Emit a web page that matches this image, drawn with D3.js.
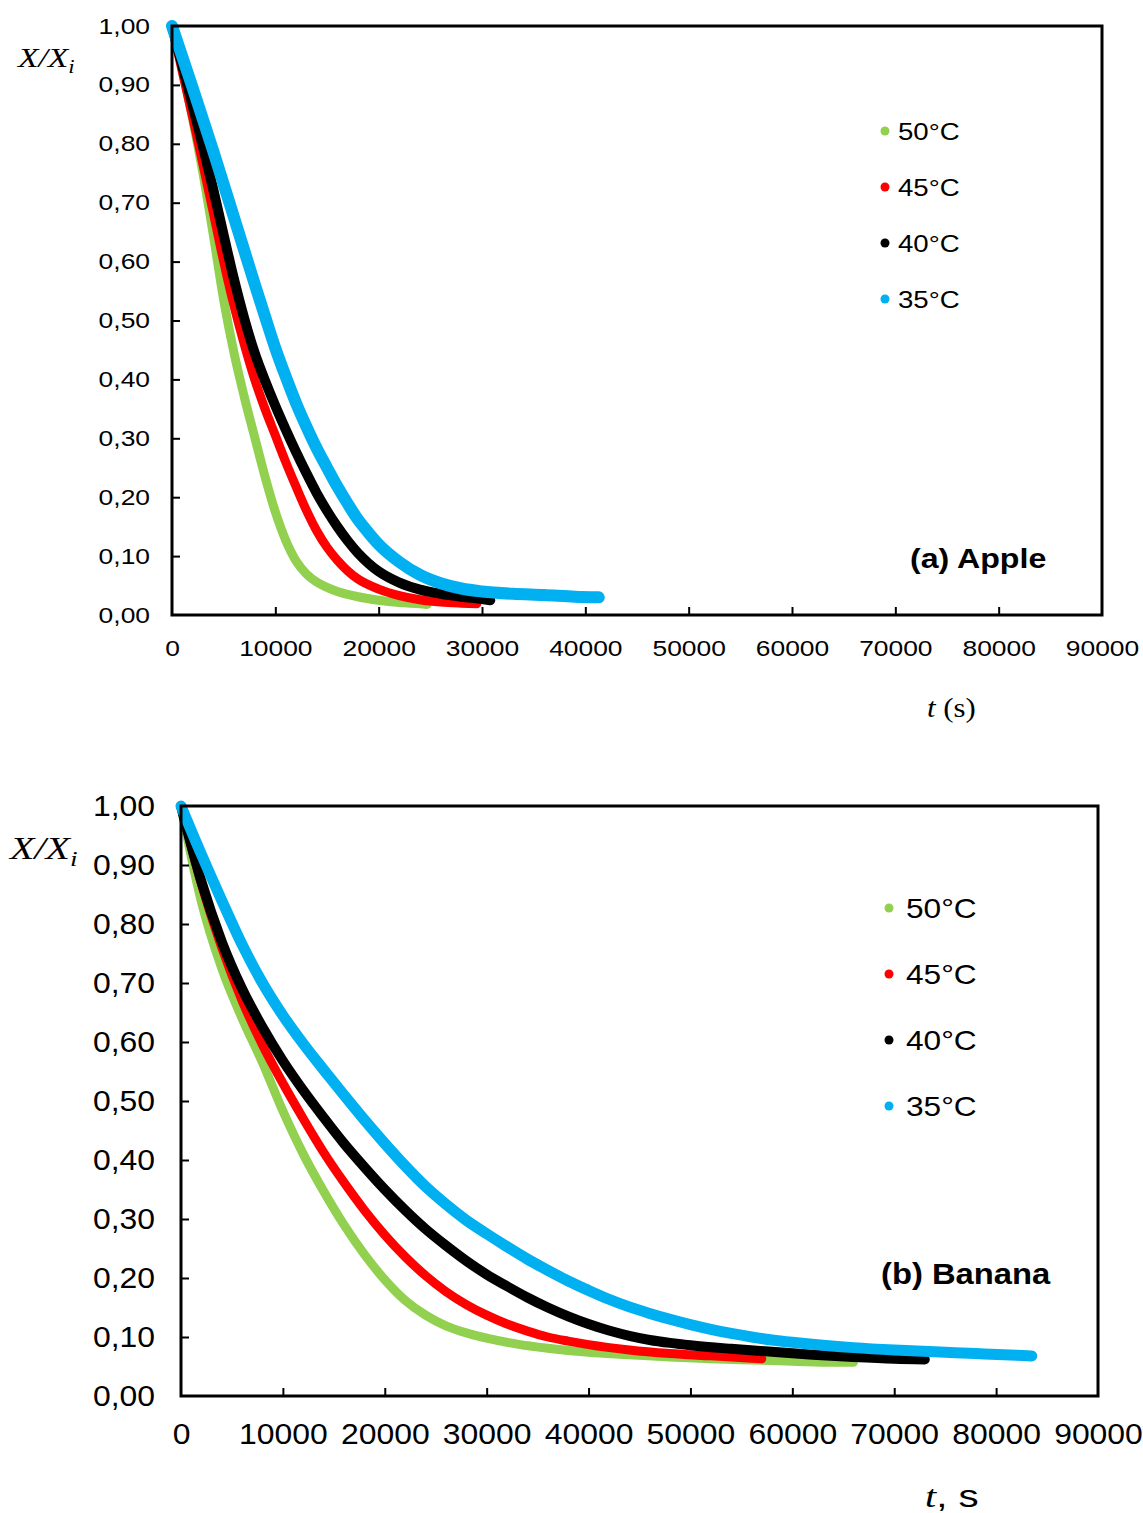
<!DOCTYPE html>
<html><head><meta charset="utf-8">
<script src="https://cdn.jsdelivr.net/npm/d3@7/dist/d3.min.js"></script>
<style>body{margin:0;background:#fff}svg{display:block}</style>
</head><body>
<svg id="chart" width="1143" height="1513"></svg>
<script>
// ---- Data ----
const seriesNames = ["50°C", "45°C", "40°C", "35°C"];
const seriesColors = ["#92d050", "#ff0000", "#000000", "#00b0f0"];
const xTicks = [0, 10000, 20000, 30000, 40000, 50000, 60000, 70000, 80000, 90000];
const yTicks = [0, 0.1, 0.2, 0.3, 0.4, 0.5, 0.6, 0.7, 0.8, 0.9, 1.0];
const yTickLabels = ["0,00","0,10","0,20","0,30","0,40","0,50","0,60","0,70","0,80","0,90","1,00"];

// Apple (a): [t (s), X/Xi]
const apple50 = [[0,1.0],[1000,0.925],[2000,0.842],[3000,0.75],[4000,0.645],[5000,0.535],[6000,0.445],[7000,0.37],[8000,0.302],[9000,0.235],[10000,0.175],[11000,0.127],[12000,0.092],[13000,0.07],[14000,0.056],[15000,0.047],[16000,0.04],[18000,0.031],[20000,0.025],[22000,0.021],[24000,0.019],[24700,0.018]];
const apple45 = [[0,1.0],[2000,0.845],[3000,0.765],[4000,0.683],[5000,0.6],[6000,0.525],[7000,0.459],[8000,0.4],[9000,0.35],[10000,0.305],[11000,0.26],[12000,0.218],[13000,0.178],[14000,0.143],[15000,0.115],[16000,0.093],[17000,0.075],[18000,0.061],[20000,0.044],[22000,0.033],[24000,0.026],[26000,0.022],[28000,0.02],[29500,0.019]];
const apple40 = [[0,1.0],[2000,0.865],[3000,0.795],[4000,0.722],[5000,0.645],[6000,0.57],[7000,0.503],[8000,0.445],[9000,0.398],[10000,0.355],[11000,0.315],[12000,0.277],[13000,0.241],[14000,0.207],[15000,0.177],[16000,0.15],[17000,0.126],[18000,0.105],[19000,0.088],[20000,0.074],[22000,0.055],[24000,0.043],[26000,0.036],[28000,0.031],[30000,0.027],[30800,0.025]];
const apple35 = [[0,1.0],[2000,0.895],[4000,0.787],[6000,0.675],[8000,0.562],[9000,0.507],[10000,0.453],[11000,0.405],[12000,0.36],[13000,0.32],[14000,0.283],[15000,0.25],[16000,0.218],[17000,0.189],[18000,0.162],[19000,0.14],[20000,0.12],[22000,0.09],[24000,0.068],[26000,0.054],[28000,0.045],[30000,0.04],[33000,0.036],[36000,0.034],[39000,0.031],[41300,0.03]];

// Banana (b): [t (s), X/Xi]
const banana50 = [[0,1.0],[2000,0.838],[4000,0.725],[6000,0.64],[8000,0.565],[10000,0.483],[12000,0.41],[14000,0.347],[16000,0.29],[18000,0.24],[20000,0.197],[22000,0.162],[24000,0.137],[26000,0.119],[28000,0.107],[30000,0.098],[33000,0.088],[36000,0.081],[40000,0.074],[44000,0.07],[48000,0.066],[52000,0.063],[56000,0.061],[60000,0.059],[64000,0.057],[66000,0.057]];
const banana45 = [[0,1.0],[2000,0.868],[4000,0.76],[6000,0.67],[8000,0.595],[10000,0.53],[12000,0.47],[14000,0.413],[16000,0.362],[18000,0.315],[20000,0.273],[22000,0.236],[24000,0.204],[26000,0.177],[28000,0.155],[30000,0.137],[32000,0.122],[34000,0.11],[36000,0.1],[38000,0.093],[40000,0.087],[44000,0.078],[48000,0.072],[52000,0.068],[56000,0.064],[57000,0.063]];
const banana40 = [[0,1.0],[2000,0.872],[4000,0.77],[6000,0.69],[8000,0.625],[10000,0.568],[12000,0.518],[14000,0.472],[16000,0.428],[18000,0.388],[20000,0.35],[22000,0.315],[24000,0.283],[26000,0.255],[28000,0.229],[30000,0.206],[32000,0.186],[34000,0.167],[36000,0.15],[38000,0.135],[40000,0.122],[42000,0.111],[44000,0.102],[46000,0.095],[48000,0.09],[50000,0.086],[54000,0.08],[58000,0.075],[62000,0.07],[66000,0.066],[70000,0.063],[73000,0.062]];
const banana35 = [[0,1.0],[2000,0.918],[4000,0.84],[6000,0.765],[8000,0.7],[10000,0.645],[12000,0.597],[14000,0.553],[16000,0.51],[18000,0.468],[20000,0.428],[22000,0.39],[24000,0.355],[26000,0.325],[28000,0.298],[30000,0.275],[32000,0.253],[34000,0.232],[36000,0.213],[38000,0.195],[40000,0.179],[42000,0.164],[44000,0.151],[46000,0.14],[48000,0.13],[50000,0.121],[52000,0.113],[54000,0.106],[56000,0.1],[58000,0.095],[60000,0.091],[63000,0.086],[66000,0.082],[70000,0.078],[74000,0.075],[78000,0.072],[82000,0.069],[83500,0.068]];

const svg = d3.select("#chart");
const SANS = "Liberation Sans, Arial, sans-serif";
const SERIF = "Liberation Serif, Times New Roman, serif";

function stretch(sel, k) {
  sel.each(function() {
    const w = this.getComputedTextLength();
    d3.select(this).attr("textLength", w * k).attr("lengthAdjust", "spacingAndGlyphs");
  });
}

function panel(cfg) {
  const x = d3.scaleLinear().domain([0, 90000]).range([cfg.left, cfg.right]);
  const y = d3.scaleLinear().domain([0, 1]).range([cfg.bottom, cfg.top]);
  const g = svg.append("g");

  // series
  const line = d3.line().x(d => x(d[0])).y(d => y(d[1])).curve(d3.curveMonotoneX);
  cfg.series.forEach((s, i) => {
    g.append("path").attr("d", line(s)).attr("fill", "none")
      .attr("stroke", seriesColors[i]).attr("stroke-width", cfg.widths[i])
      .attr("stroke-linecap", "round").attr("stroke-linejoin", "round");
  });

  // frame
  g.append("rect").attr("x", cfg.left).attr("y", cfg.top)
    .attr("width", cfg.right - cfg.left).attr("height", cfg.bottom - cfg.top)
    .attr("fill", "none").attr("stroke", "#000").attr("stroke-width", 3);

  // axes (inward ticks)
  const xAxis = d3.axisBottom(x).tickValues(xTicks).tickSize(-8).tickSizeOuter(0).tickPadding(0).tickFormat(d => String(d));
  const gx = g.append("g").attr("transform", `translate(0,${cfg.bottom})`).call(xAxis);
  gx.select(".domain").remove();
  gx.selectAll(".tick line").attr("stroke", "#000").attr("stroke-width", 2);
  gx.selectAll(".tick").filter(d => d === 0 || d === 90000).select("line").remove();
  const xt = gx.selectAll(".tick text").attr("font-family", SANS)
    .attr("font-size", cfg.tickFont).attr("fill", "#000").attr("dy", null).attr("y", cfg.xLabelY);
  stretch(xt, cfg.tickK);

  const yAxis = d3.axisLeft(y).tickValues(yTicks).tickSize(-8).tickSizeOuter(0).tickPadding(cfg.yPad)
    .tickFormat((d, i) => yTickLabels[i]);
  const gy = g.append("g").attr("transform", `translate(${cfg.left},0)`).call(yAxis);
  gy.select(".domain").remove();
  gy.selectAll(".tick line").attr("stroke", "#000").attr("stroke-width", 2);
  gy.selectAll(".tick").filter(d => d === 0 || d === 1).select("line").remove();
  const yt = gy.selectAll(".tick text").attr("font-family", SANS)
    .attr("font-size", cfg.tickFont).attr("fill", "#000");
  stretch(yt, cfg.tickK);

  // y label X/Xi
  const yl = g.append("text").attr("transform", `translate(${cfg.ylabX},${cfg.ylabY}) scale(${cfg.ylabK},1)`)
    .attr("font-family", SERIF).attr("font-style", "italic")
    .attr("font-size", cfg.ylabFont).attr("fill", "#000");
  yl.append("tspan").text("X/X");
  yl.append("tspan").text("i").attr("font-size", cfg.ylabFont * 0.68).attr("dy", cfg.ylabFont * 0.22);

  // x label
  const xl = g.append("text").attr("transform", `translate(${cfg.xlabX},${cfg.xlabY}) scale(${cfg.xlabK},1)`)
    .attr("font-size", cfg.xlabFont).attr("fill", "#000");
  cfg.xlabParts.forEach(p => {
    xl.append("tspan").text(p.t).attr("font-family", p.f).attr("font-style", p.it ? "italic" : "normal");
  });

  // panel title
  const tt = g.append("text").attr("x", cfg.titleX).attr("y", cfg.titleY).text(cfg.title)
    .attr("font-family", SANS).attr("font-weight", "bold")
    .attr("font-size", cfg.titleFont).attr("fill", "#000");
  stretch(tt, cfg.titleK);

  // legend
  seriesNames.forEach((n, i) => {
    const ly = cfg.legY + i * cfg.legStep;
    g.append("circle").attr("cx", cfg.legX).attr("cy", ly).attr("r", cfg.legR).attr("fill", seriesColors[i]);
    const lt = g.append("text").attr("x", cfg.legX + cfg.legGap).attr("y", ly).attr("dy", "0.36em").text(n)
      .attr("font-family", SANS).attr("font-size", cfg.legFont).attr("fill", "#000");
    stretch(lt, cfg.legK);
  });
}

panel({
  left: 172, right: 1102, top: 26, bottom: 615,
  series: [apple50, apple45, apple40, apple35], widths: [9, 9, 10, 12],
  tickFont: 22, tickK: 1.2, xLabelY: 41, yPad: 22,
  ylabX: 18, ylabY: 67, ylabFont: 28, ylabK: 1.2,
  xlabX: 927, xlabY: 717, xlabFont: 28, xlabK: 1.1,
  xlabParts: [{t: "t", f: SERIF, it: true}, {t: " (s)", f: SERIF, it: false}],
  title: "(a) Apple", titleX: 910, titleY: 568, titleFont: 27, titleK: 1.19,
  legX: 885, legY: 131, legStep: 56, legR: 4.5, legGap: 13, legFont: 24, legK: 1.15
});

panel({
  left: 181, right: 1098, top: 806, bottom: 1396,
  series: [banana50, banana45, banana40, banana35], widths: [9, 9, 10, 11],
  tickFont: 29, tickK: 1.1, xLabelY: 48, yPad: 26,
  ylabX: 10, ylabY: 859, ylabFont: 32, ylabK: 1.25,
  xlabX: 925, xlabY: 1507, xlabFont: 31, xlabK: 1.3,
  xlabParts: [{t: "t", f: SERIF, it: true}, {t: ", s", f: SANS, it: false}],
  title: "(b) Banana", titleX: 881, titleY: 1284, titleFont: 29, titleK: 1.13,
  legX: 889, legY: 908, legStep: 66, legR: 4.5, legGap: 17, legFont: 28, legK: 1.13
});
</script>
</body></html>
